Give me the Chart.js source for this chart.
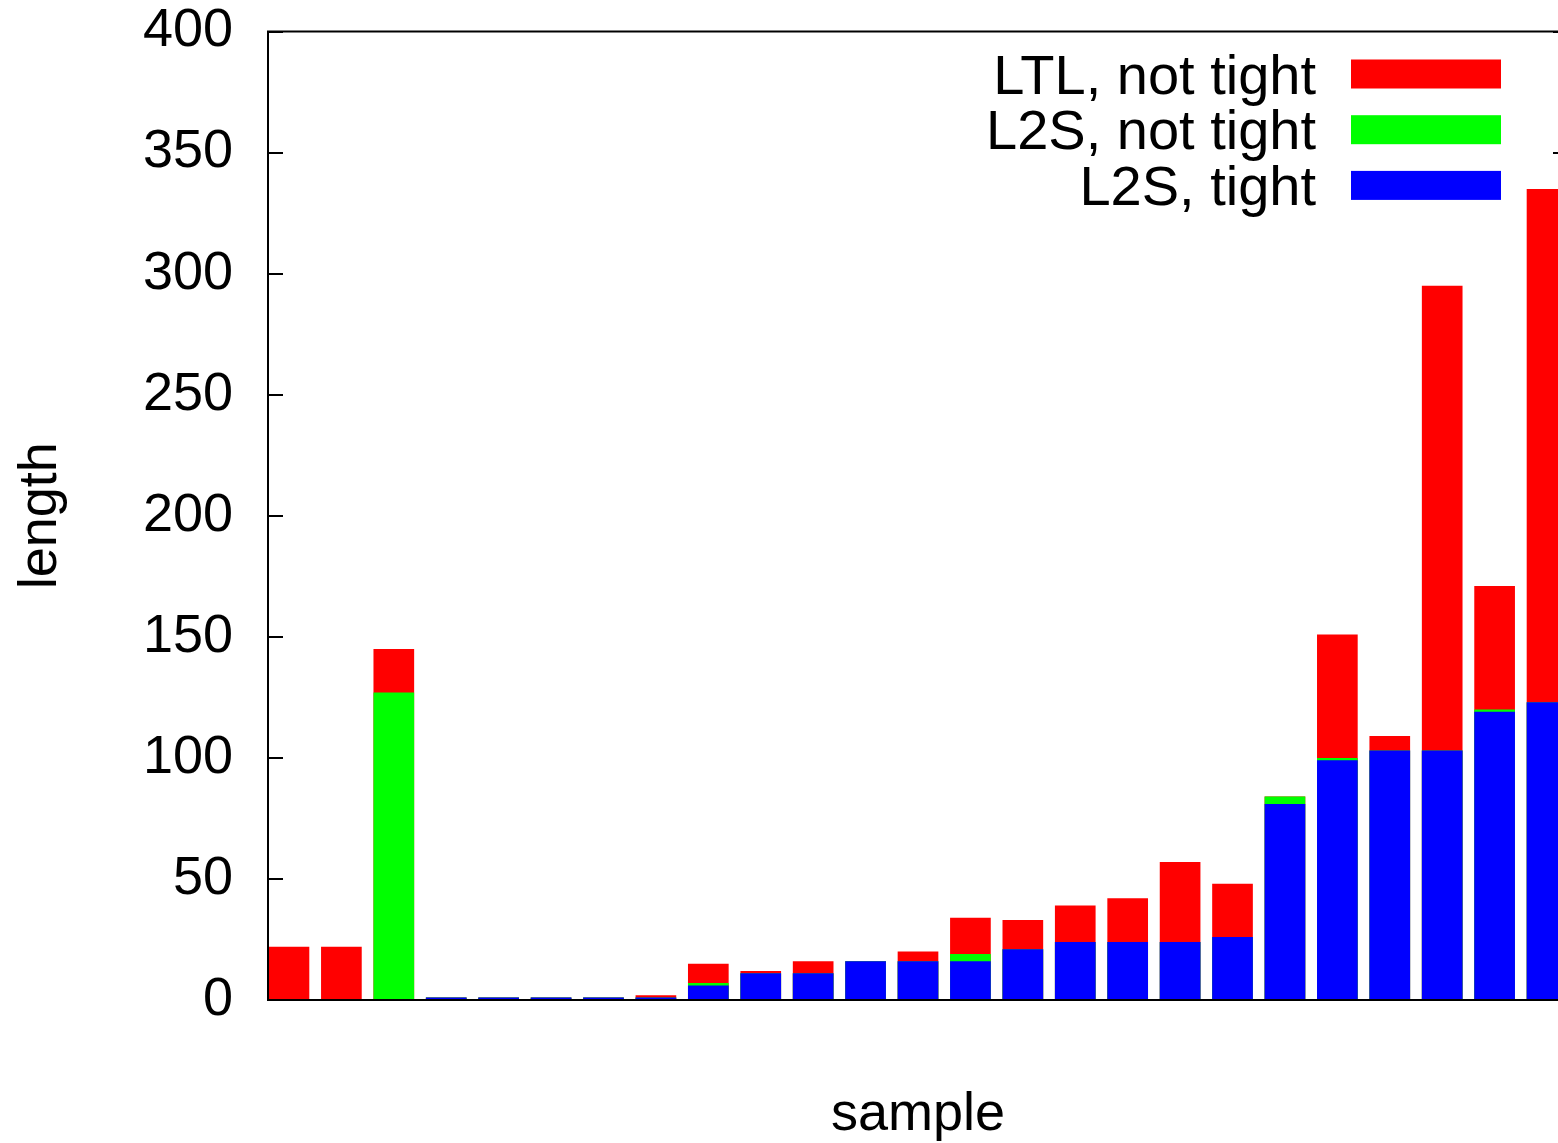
<!DOCTYPE html>
<html>
<head>
<meta charset="utf-8">
<script src="https://cdn.jsdelivr.net/npm/chart.js@4"></script>
<style>
  html, body { margin: 0; padding: 0; overflow: hidden; background: #fff; }
  canvas { display: block; }
</style>
</head>
<body>
<canvas id="chart" width="1568" height="1143"></canvas>
<script>
// values, one per sample
const ltlNotTight = [22, 22, 145, 1, 1, 1, 1, 2, 15, 12, 16, 16, 20, 34, 33, 39, 42, 57, 48, 84, 151, 109, 295, 171, 335];
const l2sNotTight = [0, 0, 127, 1, 1, 1, 1, 1, 7, 11, 11, 16, 16, 19, 21, 24, 24, 24, 26, 84, 100, 103, 103, 120, 123];
const l2sTight = [0, 0, 0, 1, 1, 1, 1, 1, 6, 11, 11, 16, 16, 16, 21, 24, 24, 24, 26, 81, 99, 103, 103, 119, 123];
const seriesNames = ["LTL, not tight", "L2S, not tight", "L2S, tight"];
const yTicks = [0, 50, 100, 150, 200, 250, 300, 350, 400];

const toPoints = (arr) => arr.map((v, i) => ({ x: i, y: v }));

Chart.defaults.font.family = "'Liberation Sans', Arial, sans-serif";
Chart.defaults.font.size = 54;
Chart.defaults.color = "#000";

// gnuplot style frame + key in the top right corner
const framePlugin = {
  id: "frame",
  afterDatasetsDraw(chart) {
    const { ctx, chartArea: a } = chart;
    ctx.save();
    ctx.strokeStyle = "#000";
    ctx.lineWidth = 2;
    ctx.strokeRect(a.left, a.top, a.right - a.left, a.bottom - a.top);
    ctx.restore();
  },
  afterDraw(chart) {
    const { ctx, chartArea: a } = chart;
    const boxRight = a.right - 67;
    const boxW = 150;
    const boxH = 29;
    ctx.save();
    ctx.font = "56px 'Liberation Sans', Arial, sans-serif";
    ctx.textAlign = "right";
    ctx.textBaseline = "alphabetic";
    chart.data.datasets.forEach((ds, i) => {
      const cy = a.top + 42.5 + i * 55.7;
      ctx.fillStyle = "#000";
      ctx.fillText(ds.label, boxRight - boxW - 35, cy + 19.5);
      ctx.fillStyle = ds.backgroundColor;
      ctx.fillRect(boxRight - boxW, cy - boxH / 2, boxW, boxH);
    });
    ctx.restore();
  },
};

const tickGrid = {
  drawOnChartArea: false,
  drawTicks: true,
  tickLength: -15,
  color: "#000",
  lineWidth: 2,
};

// keep the plot box where gnuplot put it
function fixPadding(scale) {
  scale.paddingTop = 31.5;
  scale.paddingBottom = 0;
}

new Chart(document.getElementById("chart").getContext("2d"), {
  type: "bar",
  data: {
    datasets: [
      { label: seriesNames[0], data: toPoints(ltlNotTight), backgroundColor: "#ff0000", order: 3 },
      { label: seriesNames[1], data: toPoints(l2sNotTight), backgroundColor: "#00ff00", order: 2 },
      { label: seriesNames[2], data: toPoints(l2sTight), backgroundColor: "#0000ff", order: 1 },
    ],
  },
  options: {
    responsive: false,
    animation: false,
    layout: { padding: 0 },
    datasets: {
      bar: { grouped: false, categoryPercentage: 1, barPercentage: 0.776, borderWidth: 0 },
    },
    plugins: {
      legend: { display: false },
      tooltip: { enabled: false },
    },
    scales: {
      x: {
        type: "linear",
        min: -0.4,
        max: 24.4,
        offset: false,
        grid: { display: false },
        border: { display: false },
        ticks: { display: false, stepSize: 1, includeBounds: false },
        title: {
          display: true,
          text: "sample",
          font: { size: 54, lineHeight: 1.04 },
          padding: { top: 0, bottom: 0 },
        },
        afterFit(scale) {
          scale.height = 143;
        },
      },
      y: {
        position: "left",
        min: 0,
        max: 400,
        afterBuildTicks(scale) {
          scale.ticks = yTicks.map((v) => ({ value: v }));
        },
        grid: tickGrid,
        border: { display: false },
        ticks: { padding: 50, font: { size: 54, lineHeight: 1.17 } },
        title: {
          display: true,
          text: "length",
          font: { size: 54, lineHeight: 1.2 },
          padding: { top: 9, bottom: 0 },
        },
        afterFit(scale) {
          scale.width = 268;
          fixPadding(scale);
        },
      },
      y2: {
        position: "right",
        min: 0,
        max: 400,
        afterBuildTicks(scale) {
          scale.ticks = yTicks.map((v) => ({ value: v }));
        },
        grid: tickGrid,
        border: { display: false },
        ticks: { display: false },
        afterFit(scale) {
          scale.width = 0;
          fixPadding(scale);
        },
      },
    },
  },
  plugins: [framePlugin],
});
</script>
</body>
</html>
